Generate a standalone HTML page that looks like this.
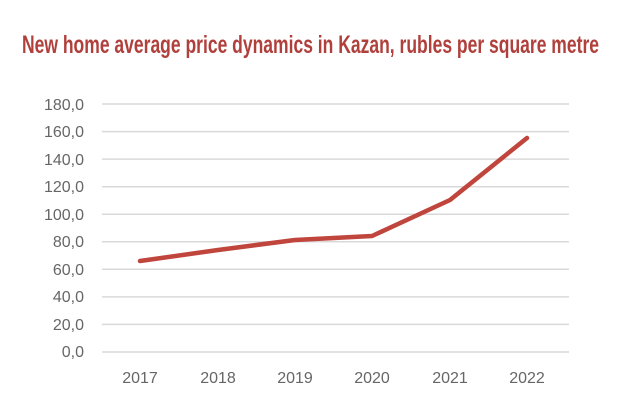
<!DOCTYPE html>
<html><head><meta charset="utf-8"><style>
html,body{margin:0;padding:0;background:#fff;}
svg{display:block;}
</style></head><body>
<svg width="620" height="413" xmlns="http://www.w3.org/2000/svg">
<text x="22" y="53" textLength="577" lengthAdjust="spacingAndGlyphs" font-family="Liberation Sans, sans-serif" font-weight="bold" font-size="25" fill="#b0403c">New home average price dynamics in Kazan, rubles per square metre</text>
<g stroke="#d9d9d9" stroke-width="1.5">
<line x1="102" x2="569" y1="104" y2="104"/>
<line x1="102" x2="569" y1="131.6" y2="131.6"/>
<line x1="102" x2="569" y1="159.1" y2="159.1"/>
<line x1="102" x2="569" y1="186.7" y2="186.7"/>
<line x1="102" x2="569" y1="214.2" y2="214.2"/>
<line x1="102" x2="569" y1="241.8" y2="241.8"/>
<line x1="102" x2="569" y1="269.3" y2="269.3"/>
<line x1="102" x2="569" y1="296.9" y2="296.9"/>
<line x1="102" x2="569" y1="324.4" y2="324.4"/>
<line x1="102" x2="569" y1="352" y2="352"/>
</g>
<g font-family="Liberation Sans, sans-serif" font-size="16" fill="#666" text-anchor="end">
<text x="84" y="110">180,0</text>
<text x="84" y="137">160,0</text>
<text x="84" y="165">140,0</text>
<text x="84" y="192">120,0</text>
<text x="84" y="220">100,0</text>
<text x="84" y="247">80,0</text>
<text x="84" y="275">60,0</text>
<text x="84" y="302">40,0</text>
<text x="84" y="330">20,0</text>
<text x="84" y="357">0,0</text>
</g>
<g font-family="Liberation Sans, sans-serif" font-size="16" fill="#666" text-anchor="middle">
<text x="140" y="383">2017</text>
<text x="218" y="383">2018</text>
<text x="295" y="383">2019</text>
<text x="372" y="383">2020</text>
<text x="450" y="383">2021</text>
<text x="527" y="383">2022</text>
</g>
<polyline points="140,261 218,250 295,240 372,236 450,200 527,138" fill="none" stroke="#c0453d" stroke-width="4.5" stroke-linejoin="round" stroke-linecap="round"/>
</svg>
</body></html>
